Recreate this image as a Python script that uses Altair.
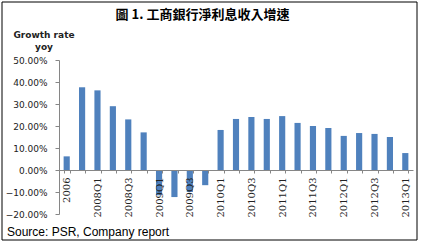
import json
import altair as alt
import pandas as pd

periods = ["2006", "2007", "2008Q1", "2008Q2", "2008Q3", "2008Q4",
           "2009Q1", "2009Q2", "2009Q3", "2009Q4",
           "2010Q1", "2010Q2", "2010Q3", "2010Q4",
           "2011Q1", "2011Q2", "2011Q3", "2011Q4",
           "2012Q1", "2012Q2", "2012Q3", "2012Q4", "2013Q1"]
growth = [0.062, 0.376, 0.362, 0.290, 0.230, 0.171,
          -0.115, -0.123, -0.100, -0.069,
          0.182, 0.232, 0.241, 0.232,
          0.245, 0.214, 0.200, 0.191,
          0.155, 0.168, 0.164, 0.150, 0.077]
y_ticks = [-0.2, -0.1, 0.0, 0.1, 0.2, 0.3, 0.4, 0.5]

title_text = "圖 1. 工商銀行淨利息收入增速"
y_title = ["Growth rate", "yoy"]
source_text = "Source: PSR, Company report"

df = pd.DataFrame({"period": periods, "growth": growth})

AXIS_GRAY = "#868686"
label_expr = "indexof(%s, datum.value) %% 2 == 0 ? datum.label : ''" % json.dumps(periods)

bars = alt.Chart(df).mark_bar(color="#4F81BD").encode(
    x=alt.X("period:N", sort=periods,
            scale=alt.Scale(paddingInner=0.6, paddingOuter=0.3),
            axis=alt.Axis(title=None, offset=-44, labelAngle=270,
                          labelExpr=label_expr, labelOverlap=False,
                          labelFont="DejaVu Serif", labelFontSize=10,
                          labelColor="#222222", labelPadding=4,
                          tickBand="extent", tickSize=3, tickColor=AXIS_GRAY,
                          domainColor=AXIS_GRAY, zindex=1)),
    y=alt.Y("growth:Q",
            scale=alt.Scale(domain=[-0.2, 0.5], nice=False, zero=False),
            axis=alt.Axis(title=None, values=y_ticks, format=".2%",
                          grid=False, labelFont="DejaVu Sans", labelFontSize=9,
                          labelColor="#222222", labelPadding=8,
                          tickSize=4, tickColor=AXIS_GRAY,
                          domainColor=AXIS_GRAY)),
)

title = alt.Chart().mark_text(
    font="Noto Sans CJK TC", fontSize=13, fontWeight="bold",
    align="center", baseline="middle", color="#000000",
).encode(x=alt.value(143.5), y=alt.value(-45), text=alt.value(title_text))

ytitle1 = alt.Chart().mark_text(
    font="DejaVu Sans", fontSize=9, fontWeight="bold",
    align="center", baseline="middle", color="#222222",
).encode(x=alt.value(-15), y=alt.value(-25), text=alt.value(y_title[0]))

ytitle2 = alt.Chart().mark_text(
    font="DejaVu Sans", fontSize=9, fontWeight="bold",
    align="center", baseline="middle", color="#222222",
).encode(x=alt.value(-15), y=alt.value(-13), text=alt.value(y_title[1]))

source = alt.Chart().mark_text(
    font="Liberation Sans", fontSize=12,
    align="left", baseline="middle", color="#000000",
).encode(x=alt.value(-52), y=alt.value(172), text=alt.value(source_text))

frame = alt.Chart().mark_rect(
    filled=False, stroke="#000000", strokeWidth=1,
).encode(x=alt.value(-57), x2=alt.value(358), y=alt.value(-58), y2=alt.value(180))

chart = alt.layer(bars, title, ytitle1, ytitle2, source, frame).properties(
    width=354, height=154,
    autosize=alt.AutoSizeParams(type="none"),
    padding={"left": 59, "top": 60, "right": 8, "bottom": 29},
    background="white",
).configure_view(stroke=None)

chart.save("out.html", embed_options={"renderer": "svg", "actions": False})
